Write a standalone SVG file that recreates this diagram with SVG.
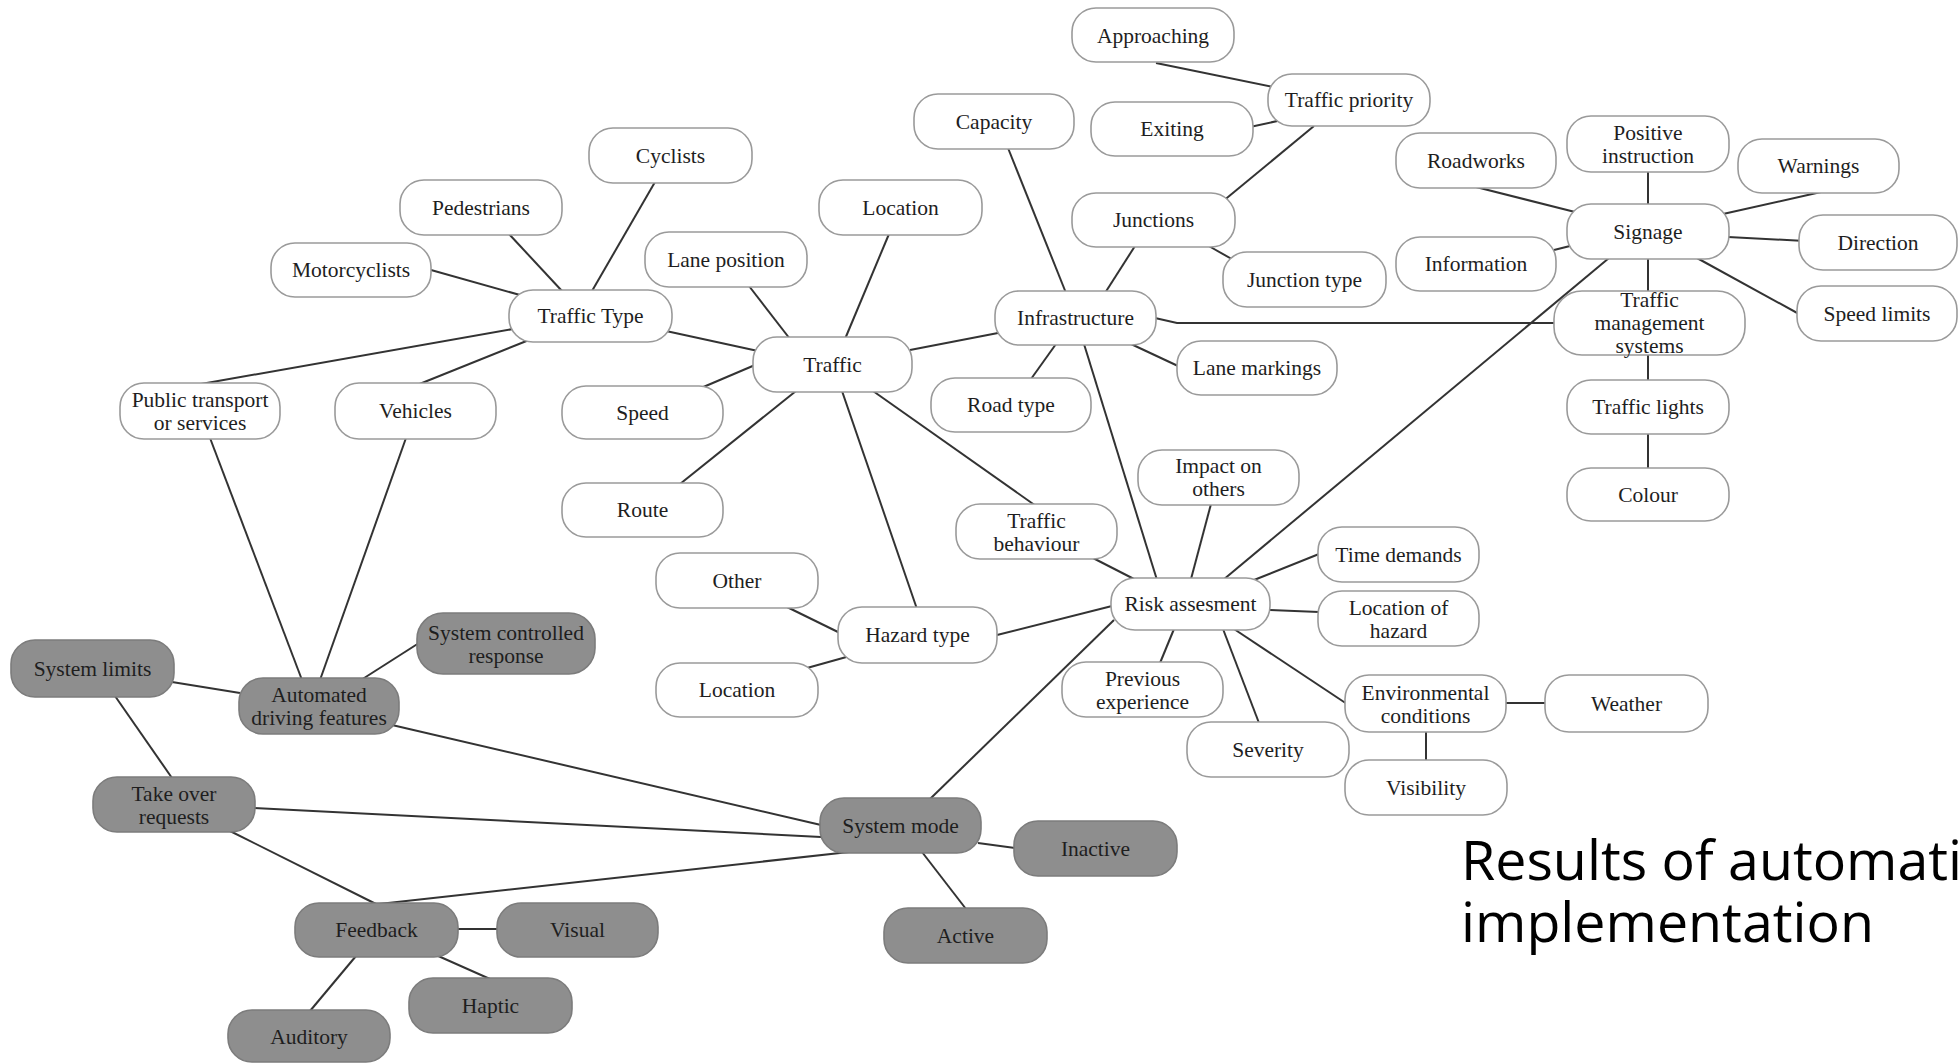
<svg xmlns="http://www.w3.org/2000/svg" width="1959" height="1063" viewBox="0 0 1959 1063">
<style>
.w{fill:#ffffff;stroke:#9a9a9a;stroke-width:1.6}
.g{fill:#8e8e8e;stroke:#7c7c7c;stroke-width:1.6}
text{font-family:"Liberation Serif","Times New Roman",serif;font-size:21.5px;fill:#1e1e1e;text-anchor:middle}
.conn line,.conn polyline{stroke:#333333;stroke-width:2;fill:none}
.title{font-family:"Open Sans","Liberation Sans",sans-serif;font-size:55.5px;fill:#000000;text-anchor:start}
</style>
<rect width="1959" height="1063" fill="#ffffff"/>
<g id="connectors" class="conn">
<line x1="1156" y1="63" x2="1273" y2="87"/>
<line x1="1250" y1="127" x2="1282" y2="120"/>
<line x1="1314" y1="126" x2="1222" y2="202"/>
<line x1="1008" y1="148" x2="1066" y2="293"/>
<line x1="889" y1="234" x2="845" y2="339"/>
<line x1="749" y1="286" x2="790" y2="339"/>
<line x1="666" y1="331" x2="758" y2="351"/>
<line x1="910" y1="350" x2="998" y2="333"/>
<line x1="1135" y1="246" x2="1105" y2="293"/>
<line x1="1207" y1="245" x2="1237" y2="262"/>
<polyline points="1155,318 1177,323 1556,323"/>
<line x1="1131" y1="344" x2="1178" y2="366"/>
<line x1="1056" y1="344" x2="1031" y2="379"/>
<line x1="1084" y1="344" x2="1157" y2="580"/>
<line x1="755" y1="365" x2="701" y2="388"/>
<line x1="796" y1="391" x2="680" y2="484"/>
<line x1="842" y1="391" x2="917" y2="609"/>
<line x1="873" y1="391" x2="1036" y2="506"/>
<line x1="1223" y1="580" x2="1609" y2="258"/>
<line x1="1476" y1="187" x2="1575" y2="212"/>
<line x1="1648" y1="171" x2="1648" y2="205"/>
<line x1="1821" y1="192" x2="1723" y2="214"/>
<line x1="1805" y1="241" x2="1728" y2="237"/>
<line x1="1799" y1="314" x2="1697" y2="258"/>
<line x1="1554" y1="250" x2="1574" y2="245"/>
<line x1="1648" y1="258" x2="1648" y2="292"/>
<line x1="1648" y1="354" x2="1648" y2="381"/>
<line x1="1648" y1="433" x2="1648" y2="469"/>
<line x1="431" y1="270" x2="520" y2="295"/>
<line x1="509" y1="234" x2="562" y2="291"/>
<line x1="655" y1="182" x2="592" y2="291"/>
<line x1="513" y1="329" x2="201" y2="384"/>
<line x1="529" y1="340" x2="417" y2="385"/>
<line x1="210" y1="438" x2="302" y2="680"/>
<line x1="406" y1="438" x2="320" y2="680"/>
<line x1="361" y1="680" x2="419" y2="643"/>
<line x1="172" y1="682" x2="240" y2="693"/>
<line x1="115" y1="696" x2="172" y2="778"/>
<line x1="392" y1="725" x2="821" y2="825"/>
<line x1="254" y1="808" x2="821" y2="837"/>
<line x1="230" y1="831" x2="376" y2="904"/>
<line x1="379" y1="904" x2="849" y2="852"/>
<line x1="978" y1="843" x2="1015" y2="848"/>
<line x1="922" y1="852" x2="966" y2="909"/>
<line x1="457" y1="929" x2="498" y2="929"/>
<line x1="436" y1="955" x2="490" y2="979"/>
<line x1="356" y1="956" x2="310" y2="1011"/>
<line x1="1114" y1="620" x2="930" y2="799"/>
<line x1="787" y1="607" x2="840" y2="633"/>
<line x1="807" y1="668" x2="850" y2="656"/>
<line x1="997" y1="635" x2="1112" y2="606"/>
<line x1="1091" y1="557" x2="1134" y2="579"/>
<line x1="1211" y1="504" x2="1191" y2="579"/>
<line x1="1254" y1="580" x2="1319" y2="554"/>
<line x1="1269" y1="610" x2="1319" y2="612"/>
<line x1="1174" y1="629" x2="1160" y2="663"/>
<line x1="1223" y1="629" x2="1259" y2="723"/>
<line x1="1234" y1="629" x2="1347" y2="704"/>
<line x1="1505" y1="703" x2="1546" y2="703"/>
<line x1="1426" y1="731" x2="1426" y2="761"/>
</g>
<g id="approaching"><rect class="w" x="1072" y="8" width="162" height="54" rx="24"/><text x="1153" y="43">Approaching</text></g>
<g id="traffic-priority"><rect class="w" x="1268" y="74" width="162" height="52" rx="24"/><text x="1349" y="107">Traffic priority</text></g>
<g id="exiting"><rect class="w" x="1091" y="102" width="162" height="54" rx="24"/><text x="1172" y="136">Exiting</text></g>
<g id="capacity"><rect class="w" x="914" y="94" width="160" height="55" rx="24"/><text x="994" y="129">Capacity</text></g>
<g id="cyclists"><rect class="w" x="589" y="128" width="163" height="55" rx="24"/><text x="670.5" y="163">Cyclists</text></g>
<g id="positive-instruction"><rect class="w" x="1567" y="116" width="162" height="56" rx="24"/><text x="1648" y="140">Positive</text><text x="1648" y="163">instruction</text></g>
<g id="roadworks"><rect class="w" x="1396" y="133" width="160" height="55" rx="24"/><text x="1476" y="168">Roadworks</text></g>
<g id="warnings"><rect class="w" x="1738" y="139" width="161" height="54" rx="24"/><text x="1818.5" y="173">Warnings</text></g>
<g id="pedestrians"><rect class="w" x="400" y="180" width="162" height="55" rx="24"/><text x="481" y="215">Pedestrians</text></g>
<g id="location-top"><rect class="w" x="819" y="180" width="163" height="55" rx="24"/><text x="900.5" y="215">Location</text></g>
<g id="junctions"><rect class="w" x="1072" y="193" width="163" height="54" rx="24"/><text x="1153.5" y="227">Junctions</text></g>
<g id="signage"><rect class="w" x="1567" y="204" width="162" height="55" rx="24"/><text x="1648" y="239">Signage</text></g>
<g id="direction"><rect class="w" x="1799" y="215" width="158" height="55" rx="24"/><text x="1878" y="250">Direction</text></g>
<g id="motorcyclists"><rect class="w" x="271" y="243" width="160" height="54" rx="24"/><text x="351" y="277">Motorcyclists</text></g>
<g id="lane-position"><rect class="w" x="645" y="232" width="162" height="55" rx="24"/><text x="726" y="267">Lane position</text></g>
<g id="information"><rect class="w" x="1396" y="237" width="160" height="54" rx="24"/><text x="1476" y="271">Information</text></g>
<g id="junction-type"><rect class="w" x="1223" y="252" width="163" height="55" rx="24"/><text x="1304.5" y="287">Junction type</text></g>
<g id="traffic-type"><rect class="w" x="509" y="290" width="163" height="52" rx="24"/><text x="590.5" y="323">Traffic Type</text></g>
<g id="infrastructure"><rect class="w" x="995" y="291" width="161" height="54" rx="24"/><text x="1075.5" y="325">Infrastructure</text></g>
<g id="traffic-management-systems"><rect class="w" x="1554" y="291" width="191" height="64" rx="28"/><text x="1649.5" y="307">Traffic</text><text x="1649.5" y="330">management</text><text x="1649.5" y="353">systems</text></g>
<g id="speed-limits"><rect class="w" x="1797" y="286" width="160" height="55" rx="24"/><text x="1877" y="321">Speed limits</text></g>
<g id="traffic"><rect class="w" x="753" y="337" width="159" height="55" rx="24"/><text x="832.5" y="372">Traffic</text></g>
<g id="lane-markings"><rect class="w" x="1177" y="341" width="160" height="54" rx="24"/><text x="1257" y="375">Lane markings</text></g>
<g id="public-transport"><rect class="w" x="120" y="383" width="160" height="56" rx="24"/><text x="200" y="407">Public transport</text><text x="200" y="430">or services</text></g>
<g id="vehicles"><rect class="w" x="335" y="383" width="161" height="56" rx="24"/><text x="415.5" y="418">Vehicles</text></g>
<g id="speed"><rect class="w" x="562" y="386" width="161" height="53" rx="24"/><text x="642.5" y="420">Speed</text></g>
<g id="road-type"><rect class="w" x="931" y="378" width="160" height="54" rx="24"/><text x="1011" y="412">Road type</text></g>
<g id="traffic-lights"><rect class="w" x="1567" y="380" width="162" height="54" rx="24"/><text x="1648" y="414">Traffic lights</text></g>
<g id="impact-on-others"><rect class="w" x="1138" y="450" width="161" height="55" rx="24"/><text x="1218.5" y="473">Impact on</text><text x="1218.5" y="496">others</text></g>
<g id="colour"><rect class="w" x="1567" y="468" width="162" height="53" rx="24"/><text x="1648" y="502">Colour</text></g>
<g id="route"><rect class="w" x="562" y="483" width="161" height="54" rx="24"/><text x="642.5" y="517">Route</text></g>
<g id="traffic-behaviour"><rect class="w" x="956" y="504" width="161" height="55" rx="24"/><text x="1036.5" y="528">Traffic</text><text x="1036.5" y="551">behaviour</text></g>
<g id="time-demands"><rect class="w" x="1318" y="527" width="161" height="55" rx="24"/><text x="1398.5" y="562">Time demands</text></g>
<g id="other"><rect class="w" x="656" y="553" width="162" height="55" rx="24"/><text x="737" y="588">Other</text></g>
<g id="risk-assesment"><rect class="w" x="1111" y="578" width="159" height="52" rx="24"/><text x="1190.5" y="611">Risk assesment</text></g>
<g id="location-of-hazard"><rect class="w" x="1318" y="591" width="161" height="55" rx="24"/><text x="1398.5" y="615">Location of</text><text x="1398.5" y="638">hazard</text></g>
<g id="hazard-type"><rect class="w" x="838" y="607" width="159" height="56" rx="24"/><text x="917.5" y="642">Hazard type</text></g>
<g id="previous-experience"><rect class="w" x="1062" y="662" width="161" height="55" rx="24"/><text x="1142.5" y="686">Previous</text><text x="1142.5" y="709">experience</text></g>
<g id="location-bottom"><rect class="w" x="656" y="663" width="162" height="54" rx="24"/><text x="737" y="697">Location</text></g>
<g id="environmental-conditions"><rect class="w" x="1345" y="675" width="161" height="57" rx="24"/><text x="1425.5" y="700">Environmental</text><text x="1425.5" y="723">conditions</text></g>
<g id="weather"><rect class="w" x="1545" y="675" width="163" height="57" rx="24"/><text x="1626.5" y="711">Weather</text></g>
<g id="severity"><rect class="w" x="1187" y="722" width="162" height="55" rx="24"/><text x="1268" y="757">Severity</text></g>
<g id="visibility"><rect class="w" x="1345" y="760" width="162" height="55" rx="24"/><text x="1426" y="795">Visibility</text></g>
<g id="system-controlled-response"><rect class="g" x="417" y="613" width="178" height="61" rx="26"/><text x="506" y="640">System controlled</text><text x="506" y="663">response</text></g>
<g id="system-limits"><rect class="g" x="11" y="640" width="163" height="57" rx="24"/><text x="92.5" y="676">System limits</text></g>
<g id="automated-driving-features"><rect class="g" x="239" y="678" width="160" height="56" rx="24"/><text x="319" y="702">Automated</text><text x="319" y="725">driving features</text></g>
<g id="take-over-requests"><rect class="g" x="93" y="777" width="162" height="55" rx="24"/><text x="174" y="801">Take over</text><text x="174" y="824">requests</text></g>
<g id="system-mode"><rect class="g" x="820" y="798" width="161" height="55" rx="24"/><text x="900.5" y="833">System mode</text></g>
<g id="inactive"><rect class="g" x="1014" y="821" width="163" height="55" rx="24"/><text x="1095.5" y="856">Inactive</text></g>
<g id="feedback"><rect class="g" x="295" y="903" width="163" height="54" rx="24"/><text x="376.5" y="937">Feedback</text></g>
<g id="visual"><rect class="g" x="497" y="903" width="161" height="54" rx="24"/><text x="577.5" y="937">Visual</text></g>
<g id="active"><rect class="g" x="884" y="908" width="163" height="55" rx="24"/><text x="965.5" y="943">Active</text></g>
<g id="haptic"><rect class="g" x="409" y="978" width="163" height="55" rx="24"/><text x="490.5" y="1013">Haptic</text></g>
<g id="auditory"><rect class="g" x="228" y="1010" width="162" height="52" rx="24"/><text x="309" y="1044">Auditory</text></g>
<g id="title"><text class="title" x="1461" y="880">Results of automati<tspan x="1461" y="942">implementation</tspan></text></g>
</svg>
